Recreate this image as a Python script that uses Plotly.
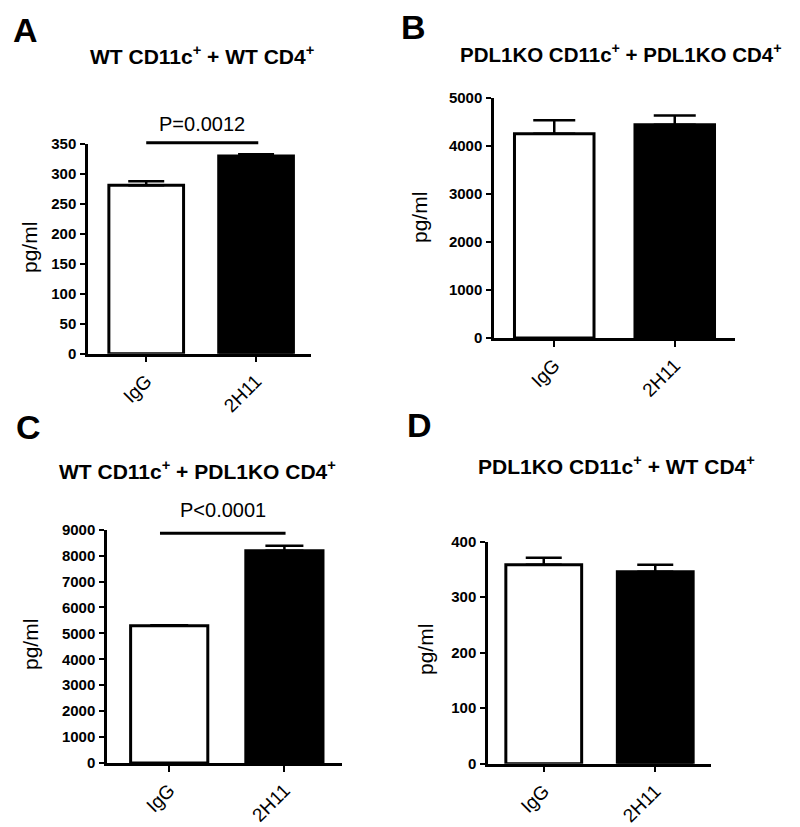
import plotly.graph_objects as go

W, H = 800, 827

categories = ["IgG", "2H11"]

# Panel values (pg/ml) and upper SEM
vals_A = [281, 330]
err_A = [7, 3]
vals_B = [4256, 4444]
err_B = [280, 190]
vals_C = [5296, 8190]
err_C = [15, 190]
vals_D = [358.6, 346]
err_D = [12.5, 12.6]

ticks_A = [0, 50, 100, 150, 200, 250, 300, 350]
ticks_B = [0, 1000, 2000, 3000, 4000, 5000]
ticks_C = [0, 1000, 2000, 3000, 4000, 5000, 6000, 7000, 8000, 9000]
ticks_D = [0, 100, 200, 300, 400]

titles = [
    "WT CD11c<sup>+</sup> + WT CD4<sup>+</sup>",
    "PDL1KO CD11c<sup>+</sup> + PDL1KO CD4<sup>+</sup>",
    "WT CD11c<sup>+</sup> + PDL1KO CD4<sup>+</sup>",
    "PDL1KO CD11c<sup>+</sup> + WT CD4<sup>+</sup>",
]
panel_letters = ["A", "B", "C", "D"]

# layout geometry (pixels)
panels = [
    dict(vals=vals_A, err=err_A, ticks=ticks_A, x0=80, x1=303, ytop=136, ybot=345.7,
         xr=[-0.53, 1.5], bw=0.68, cap=18, title_xy=(194, 47), title_size=21,
         letter_xy=(17, 22), ylab_xy=(22, 240)),
    dict(vals=vals_B, err=err_B, ticks=ticks_B, x0=486, x1=727, ytop=90, ybot=330,
         xr=[-0.5, 1.5], bw=0.66, cap=21, title_xy=(613, 45), title_size=20.5,
         letter_xy=(405, 19), ylab_xy=(412, 210)),
    dict(vals=vals_C, err=err_C, ticks=ticks_C, x0=99, x1=334, ytop=521.7, ybot=755,
         xr=[-0.54, 1.5], bw=0.67, cap=19, title_xy=(189, 462), title_size=21,
         letter_xy=(20, 419), ylab_xy=(22, 637)),
    dict(vals=vals_D, err=err_D, ticks=ticks_D, x0=480, x1=703, ytop=533.7, ybot=755.7,
         xr=[-0.5, 1.5], bw=0.68, cap=18, title_xy=(608, 457), title_size=21,
         letter_xy=(411, 417), ylab_xy=(417, 642)),
]

# significance annotations
sig_panel = [0, 2]
sig_x0 = [0.0, -0.08]
sig_x1 = [1.02, 1.01]
sig_y = [352, 8860]
sig_text = ["P=0.0012", "P<0.0001"]
sig_gap = [19, 23]

FONT = "Liberation Sans, Arial, Helvetica, sans-serif"

fig = go.Figure()
layout = dict(
    width=W, height=H, margin=dict(l=0, r=0, t=0, b=0),
    paper_bgcolor="white", plot_bgcolor="white", showlegend=False,
    font=dict(family=FONT, color="black"),
    annotations=[], shapes=[],
)

def px_x(p):
    return p / W

def px_y(p):
    return 1 - p / H

for i, p in enumerate(panels):
    n = "" if i == 0 else str(i + 1)
    xa, ya = "x" + n, "y" + n
    fig.add_trace(go.Bar(
        x=categories, y=p["vals"], xaxis=xa, yaxis=ya, width=p["bw"],
        marker=dict(color=["white", "black"], line=dict(color="black", width=3)),
        error_y=dict(type="data", array=p["err"], arrayminus=[0, 0], symmetric=False,
                     color="black", thickness=2.5, width=p["cap"]),
    ))
    ymax = p["ticks"][-1]
    layout["xaxis" + n] = dict(
        domain=[px_x(p["x0"]), px_x(p["x1"])], anchor=ya, range=p["xr"],
        showline=True, linecolor="black", linewidth=2.5, ticks="outside", ticklen=6,
        tickwidth=2, tickcolor="black", tickangle=-45, showgrid=False, zeroline=False,
        tickfont=dict(size=19, family=FONT, color="black"), automargin=False,
        fixedrange=True,
    )
    layout["yaxis" + n] = dict(
        domain=[px_y(p["ybot"]), px_y(p["ytop"])], anchor=xa, range=[0, ymax],
        tickvals=p["ticks"], ticktext=[str(t) for t in p["ticks"]],
        showline=True, linecolor="black", linewidth=2.5, ticks="outside", ticklen=5,
        tickwidth=2, tickcolor="black", showgrid=False, zeroline=False,
        tickfont=dict(size=15, family=FONT, color="black", weight="bold"),
        ticklabelstandoff=1,
        automargin=False, fixedrange=True,
    )
    tx, ty = p["title_xy"]
    layout["annotations"].append(dict(
        text="<b>" + titles[i] + "</b>", x=px_x(tx), y=px_y(ty), xref="paper", yref="paper",
        showarrow=False, xanchor="center", yanchor="middle",
        font=dict(size=p["title_size"], family=FONT, color="black")))
    lx, ly = p["letter_xy"]
    layout["annotations"].append(dict(
        text="<b>" + panel_letters[i] + "</b>", x=px_x(lx), y=px_y(ly), xref="paper",
        yref="paper", showarrow=False, xanchor="center", yanchor="middle",
        font=dict(size=34, family=FONT, color="black")))
    yx, yy = p["ylab_xy"]
    layout["annotations"].append(dict(
        text="pg/ml", x=px_x(yx), y=px_y(yy), xref="paper", yref="paper", textangle=-90,
        showarrow=False, xanchor="center", yanchor="middle",
        font=dict(size=21, family=FONT, color="black")))

# significance bars (mapped through each panel's axis scale)
for k, pi in enumerate(sig_panel):
    p = panels[pi]
    span = p["xr"][1] - p["xr"][0]
    def cx(c, p=p, span=span):
        return px_x(p["x0"] + (c - p["xr"][0]) / span * (p["x1"] - p["x0"]))
    ymax = p["ticks"][-1]
    ypx = p["ybot"] - sig_y[k] / ymax * (p["ybot"] - p["ytop"])
    layout["shapes"].append(dict(
        type="line", xref="paper", yref="paper", x0=cx(sig_x0[k]), x1=cx(sig_x1[k]),
        y0=px_y(ypx), y1=px_y(ypx), line=dict(color="black", width=3)))
    layout["annotations"].append(dict(
        text=sig_text[k], x=(cx(sig_x0[k]) + cx(sig_x1[k])) / 2, y=px_y(ypx - sig_gap[k]),
        xref="paper", yref="paper", showarrow=False, xanchor="center", yanchor="middle",
        font=dict(size=20, family=FONT, color="black")))

fig.update_layout(**layout)
fig.write_html("out.html")
